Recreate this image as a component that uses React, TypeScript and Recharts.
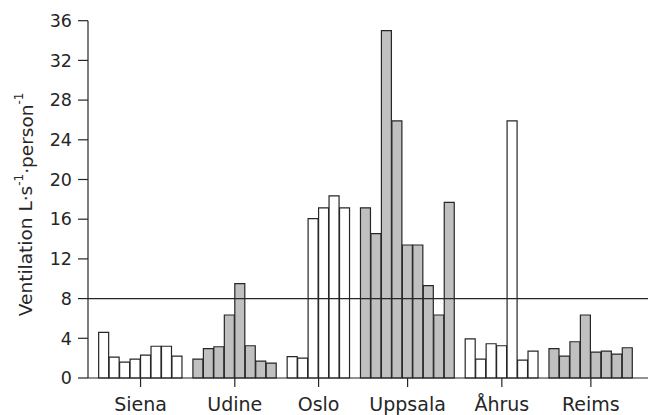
import React from "react";
import {
  BarChart,
  Bar,
  Cell,
  XAxis,
  YAxis,
  ReferenceLine,
} from "recharts";

/* Values, one array per city */
const cities = ["Siena", "Udine", "Oslo", "Uppsala", "Åhrus", "Reims"];
const siena = [4.6, 2.1, 1.6, 1.9, 2.3, 3.2, 3.2, 2.2];
const udine = [1.9, 2.95, 3.15, 6.35, 9.5, 3.25, 1.7, 1.5];
const oslo = [2.15, 2.0, 16.05, 17.15, 18.35, 17.15];
const uppsala = [17.15, 14.55, 35.0, 25.9, 13.4, 13.4, 9.3, 6.35, 17.7];
const ahrus = [3.95, 1.9, 3.45, 3.25, 25.9, 1.8, 2.7];
const reims = [2.95, 2.2, 3.65, 6.35, 2.6, 2.7, 2.4, 3.05];
const shaded = [false, true, false, true, false, true];
const yTicks = [0, 4, 8, 12, 16, 20, 24, 28, 32, 36];
const threshold = 8;

const groups = [siena, udine, oslo, uppsala, ahrus, reims];

/* Lay bars out one slot apart, leaving an empty slot between cities */
type Row = { pos: number; value: number; city: number };
const rows: Row[] = [];
const centers: number[] = [];
let slot = 1;
groups.forEach((g, ci) => {
  const start = slot;
  g.forEach((v) => {
    rows.push({ pos: slot, value: v, city: ci });
    slot += 1;
  });
  centers.push((start + slot - 1) / 2);
  slot += 1;
});

const WHITE = "#ffffff";
const GRAY = "#c0c0c0";
const INK = "#262626";

function YLabel({ viewBox }: any) {
  const cx = viewBox.x + 8;
  const cy = viewBox.y + viewBox.height / 2 + 5;
  return (
    <text
      x={cx}
      y={cy}
      transform={`rotate(-90, ${cx}, ${cy})`}
      textAnchor="middle"
      dominantBaseline="central"
      fontSize={18.5}
      fill={INK}
    >
      Ventilation L·s
      <tspan fontSize={12} dy={-7}>-1</tspan>
      <tspan dy={7}>·person</tspan>
      <tspan fontSize={12} dy={-7}>-1</tspan>
    </text>
  );
}

export default function App() {
  return (
    <div style={{ fontFamily: "'DejaVu Sans', sans-serif" }}>
      <BarChart
        width={648}
        height={407}
        data={rows}
        margin={{ top: 12.7, right: 0, bottom: 7, left: 10 }}
        barCategoryGap={0}
      >
        <XAxis
          dataKey="pos"
          type="number"
          domain={[-0.518, 53.72]}
          ticks={centers}
          interval={0}
          allowDecimals
          tickFormatter={(v) => {
            const i = centers.indexOf(v);
            return i >= 0 ? cities[i] : "";
          }}
          tick={{ fontSize: 19, fill: INK }}
          tickSize={9}
          tickMargin={11}
          height={30}
          axisLine={{ stroke: INK, strokeWidth: 1.2 }}
          tickLine={{ stroke: INK, strokeWidth: 1.2 }}
        />
        <YAxis
          type="number"
          domain={[0, 36]}
          ticks={yTicks}
          interval={0}
          tick={{ fontSize: 17.5, fill: INK }}
          tickSize={10}
          tickMargin={6}
          width={70}
          axisLine={{ stroke: INK, strokeWidth: 1.2 }}
          tickLine={{ stroke: INK, strokeWidth: 1.2 }}
          label={{ content: YLabel }}
        />
        <Bar
          dataKey="value"
          stroke={INK}
          strokeWidth={1.2}
          isAnimationActive={false}
        >
          {rows.map((r, i) => (
            <Cell key={i} fill={shaded[r.city] ? GRAY : WHITE} />
          ))}
        </Bar>
        <ReferenceLine y={threshold} stroke={INK} strokeWidth={1.3} />
      </BarChart>
    </div>
  );
}
